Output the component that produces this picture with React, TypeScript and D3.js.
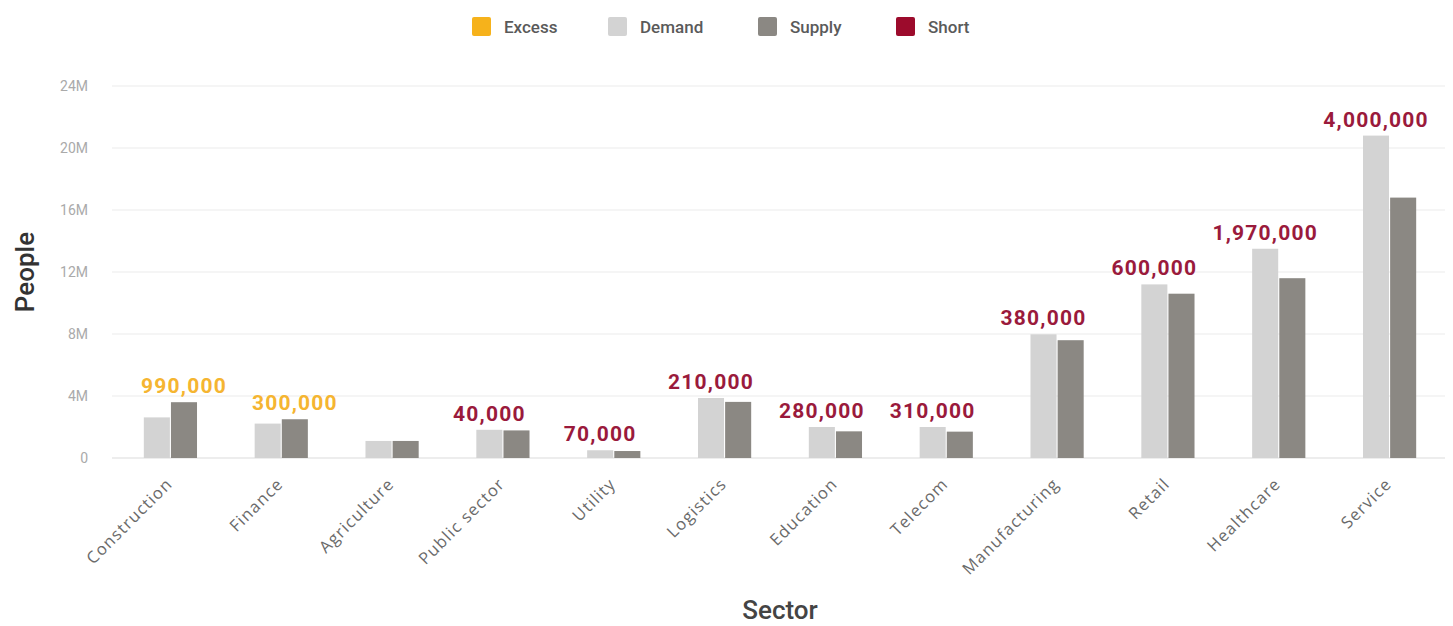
import React from "react";
import * as d3 from "d3";

const sectors = ["Construction","Finance","Agriculture","Public sector","Utility","Logistics","Education","Telecom","Manufacturing","Retail","Healthcare","Service"];
const demand = [2.62, 2.22, 1.1, 1.82, 0.5, 3.87, 2.0, 2.0, 7.98, 11.2, 13.5, 20.8];
const supply = [3.6, 2.5, 1.1, 1.78, 0.45, 3.62, 1.72, 1.7, 7.6, 10.6, 11.6, 16.8];
const gapLabels = ["990,000","300,000","","40,000","70,000","210,000","280,000","310,000","380,000","600,000","1,970,000","4,000,000"];
const gapTypes = ["Excess","Excess","","Short","Short","Short","Short","Short","Short","Short","Short","Short"];
const yTicks = [0, 4, 8, 12, 16, 20, 24];
const legendItems = ["Excess","Demand","Supply","Short"];

const colors: Record<string, string> = {
  Excess: "#f6b21b",
  Demand: "#d3d3d3",
  Supply: "#8b8883",
  Short: "#9c0b2c",
};
const labelColors: Record<string, string> = {
  Excess: "#f5b531",
  Short: "#9a1a3c",
};

const W = 1453, H = 626;
const left = 115, right = 1445, top = 86, bottom = 458;

export default function App() {
  const x = d3.scaleBand<string>().domain(sectors).range([left, right]).paddingInner(0.52).paddingOuter(0.26);
  const x1 = d3.scaleBand<string>().domain(["Demand","Supply"]).range([0, x.bandwidth()]).paddingInner(0.04);
  const y = d3.scaleLinear().domain([0, 24]).range([bottom, top]);
  const font = "Roboto, 'Open Sans', sans-serif";
  const legendX = [470, 606, 756, 894];

  return (
    <svg width={W} height={H} style={{ display: "block", position: "absolute", left: 0, top: 0, background: "#fff" }}>
      {/* legend */}
      {legendItems.map((k, i) => (
        <g key={k} transform={`translate(${legendX[i]},15)`}>
          <rect x={2} y={2} width={19} height={19} rx={2} fill={colors[k]} />
          <text x={34} y={18} fontFamily={font} fontSize={17} fontWeight={500} fill="#5a5a5a">{k}</text>
        </g>
      ))}
      {/* grid + y ticks */}
      {yTicks.map((t) => (
        <g key={t}>
          <line x1={left - 3} x2={right} y1={y(t)} y2={y(t)} stroke={t === 0 ? "#dcdcdc" : "#ececec"} strokeWidth={1.2} />
          <text x={88} y={y(t) + 5} textAnchor="end" fontFamily={font} fontSize={14} fill="#aaa">{t === 0 ? "0" : `${t}M`}</text>
        </g>
      ))}
      {/* bars */}
      {sectors.map((s, i) => {
        const x0 = x(s)!;
        return (
          <g key={s}>
            <rect x={x0 + x1("Demand")!} y={y(demand[i])} width={x1.bandwidth()} height={bottom - y(demand[i])} fill={colors.Demand} />
            <rect x={x0 + x1("Supply")!} y={y(supply[i])} width={x1.bandwidth()} height={bottom - y(supply[i])} fill={colors.Supply} />
          </g>
        );
      })}
      {/* gap labels */}
      {sectors.map((s, i) => {
        if (!gapLabels[i]) return null;
        const taller = demand[i] >= supply[i] ? "Demand" : "Supply";
        let cx = x(s)! + x1(taller)! + x1.bandwidth() / 2;
        const estW = gapLabels[i].length * 12.3;
        if (cx + estW / 2 > W - 3) cx = W - 3 - estW / 2;
        const ty = y(Math.max(demand[i], supply[i])) - 9;
        return (
          <text key={s} x={cx} y={ty} textAnchor="middle" fontFamily={font} fontSize={21} fontWeight={700} letterSpacing={1.2} fill={labelColors[gapTypes[i]]}>{gapLabels[i]}</text>
        );
      })}
      {/* x tick labels */}
      {sectors.map((s) => {
        const cx = x(s)! + x.bandwidth() / 2 + 3;
        return (
          <text key={s} transform={`translate(${cx},485) rotate(-45)`} textAnchor="end" fontFamily="'Open Sans', sans-serif" fontSize={16.5} letterSpacing={1.2} fill="#6a6a6a">{s}</text>
        );
      })}
      {/* axis titles */}
      <text transform={`translate(34,272) rotate(-90)`} textAnchor="middle" fontFamily={font} fontSize={26} fontWeight={500} fill="#333">People</text>
      <text x={(left + right) / 2} y={619} textAnchor="middle" fontFamily={font} fontSize={26} fontWeight={500} fill="#444">Sector</text>
    </svg>
  );
}
